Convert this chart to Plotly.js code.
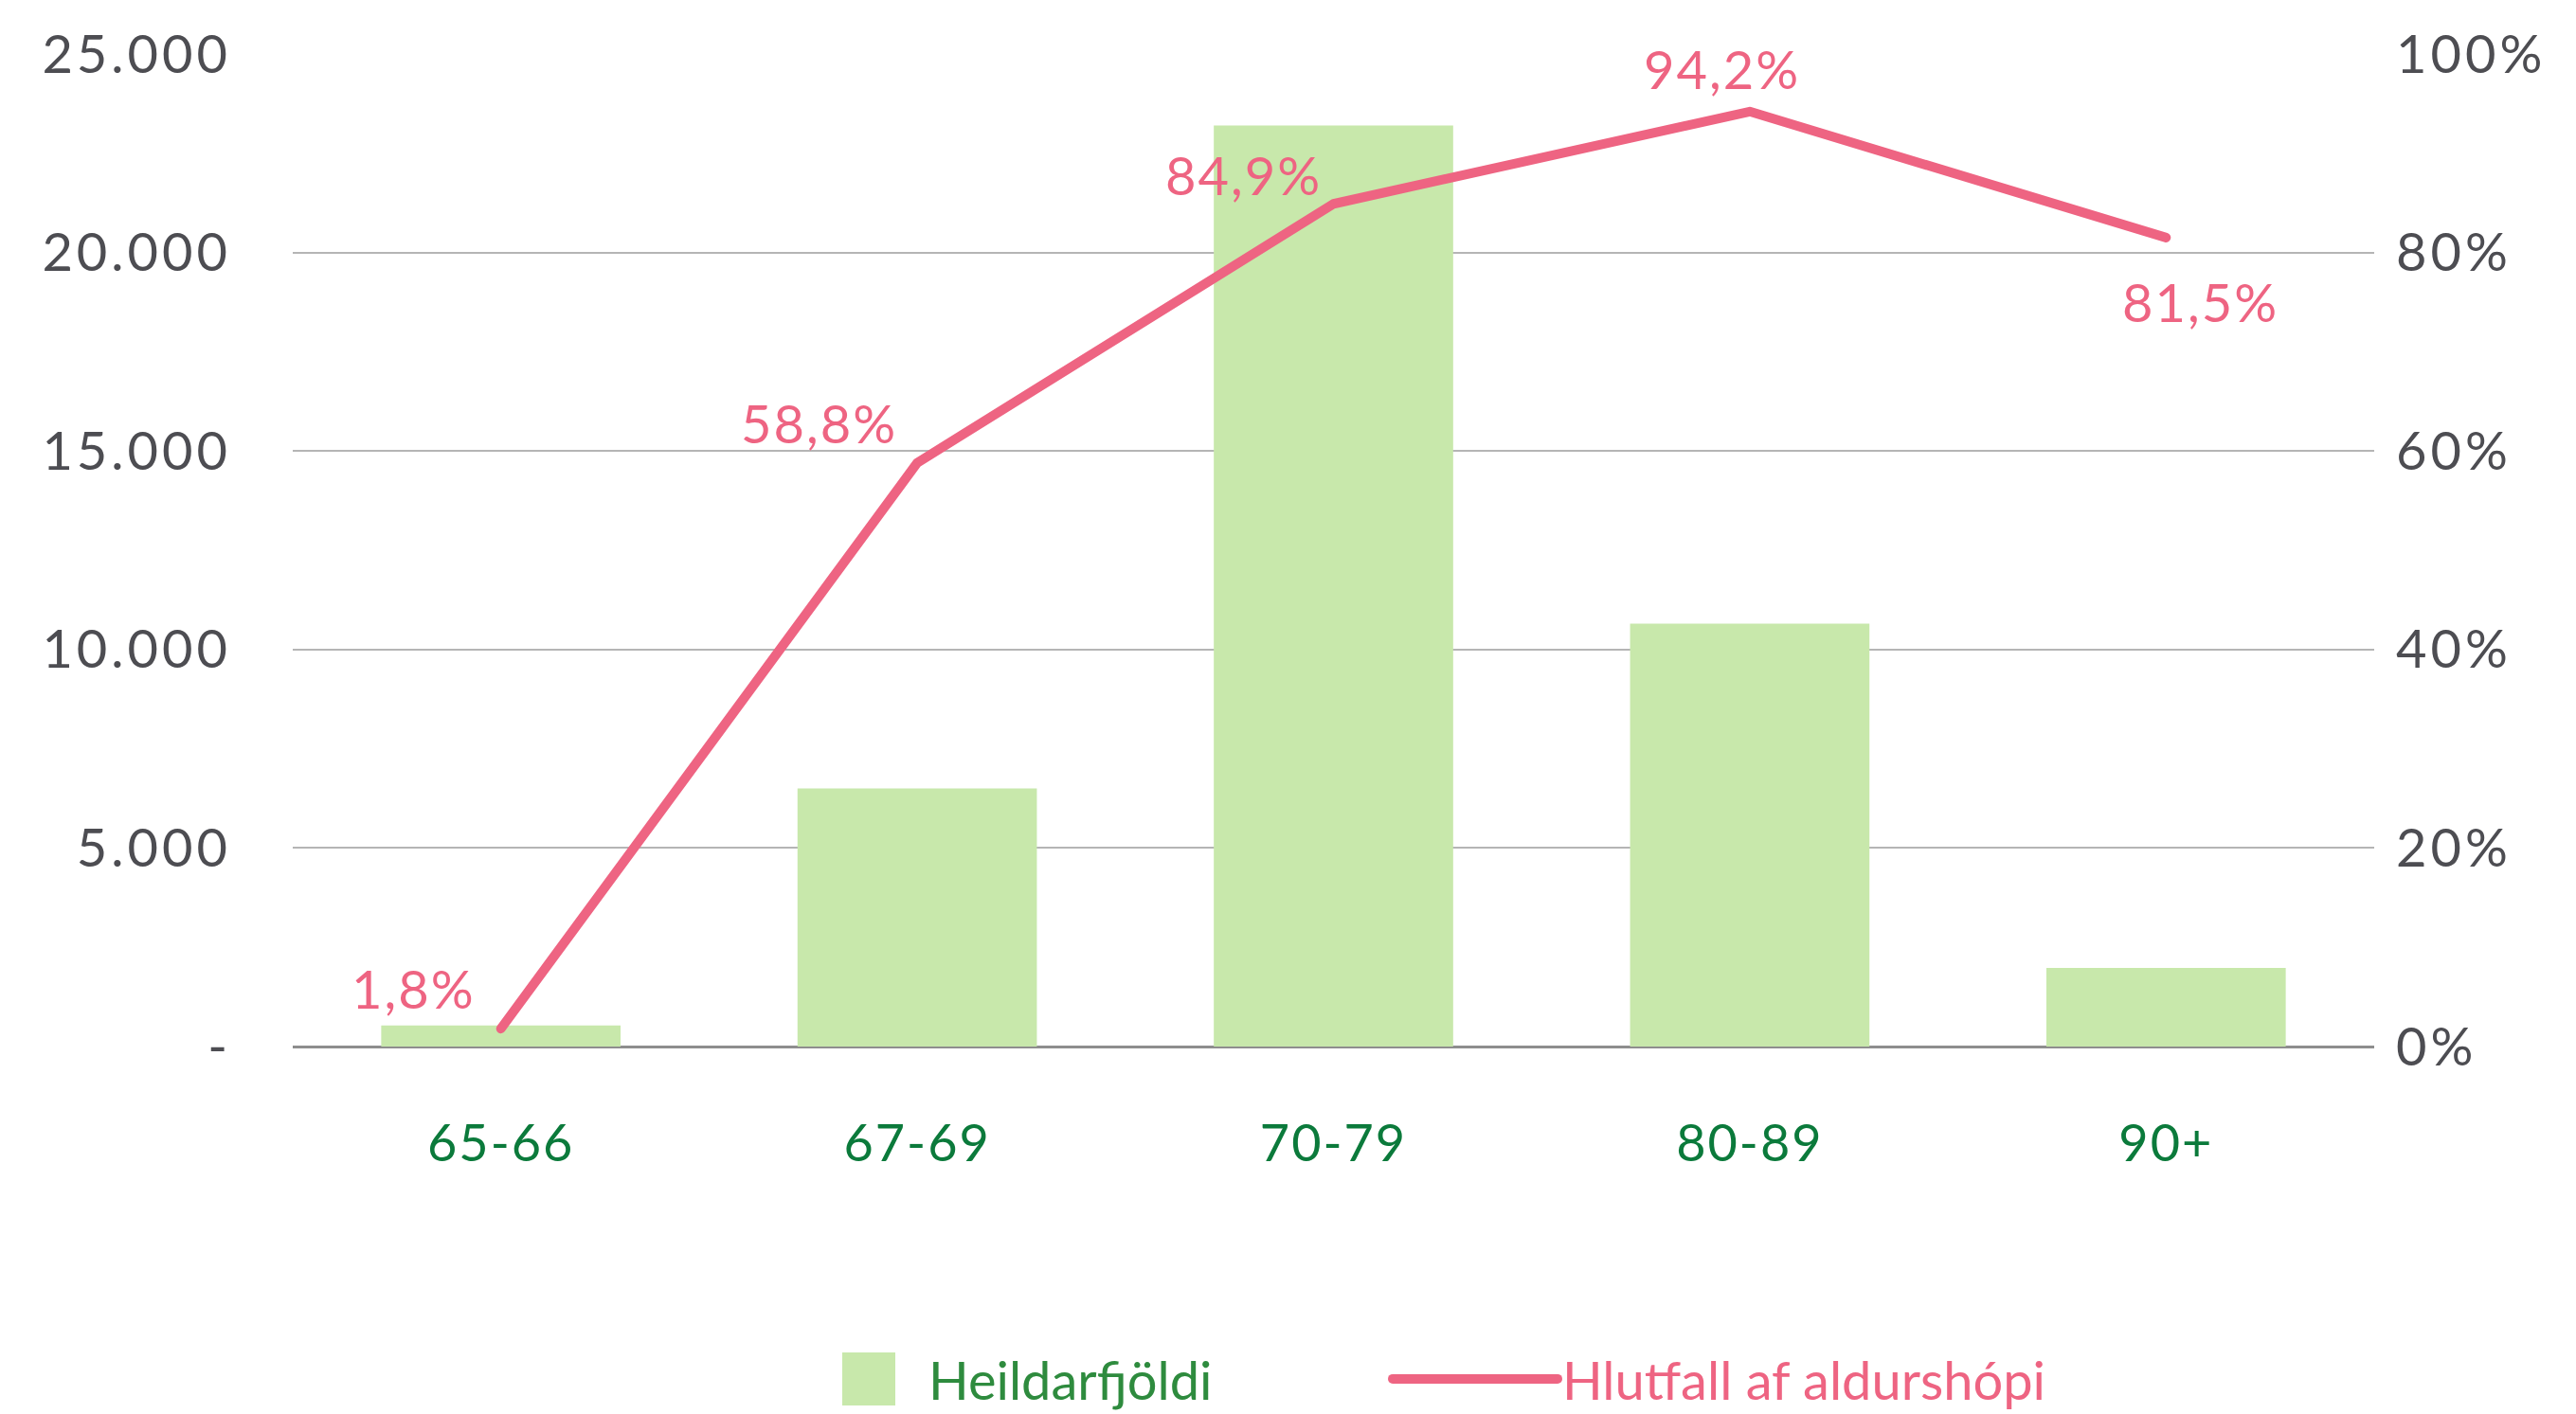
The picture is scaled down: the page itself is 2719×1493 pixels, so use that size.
<!DOCTYPE html>
<html>
<head>
<meta charset="utf-8">
<script src="https://cdn.plot.ly/plotly-3.0.1.min.js"></script>
<style>
html,body{margin:0;padding:0;background:#fff;}
#chart{width:2719px;height:1493px;}
#chart .ytick text, #chart .y2tick text {letter-spacing: 4px;}
#chart .xtick text {letter-spacing: 2px;}
#chart .annotation-text {letter-spacing: 2px;}
#chart text.legendtext[data-unformatted^="Hlutfall"] {transform: translateX(33px);}
#chart .legendlines path {stroke-linecap: round;}
#chart .scatterlayer .js-line {stroke-linecap: round; stroke-linejoin: round;}
</style>
</head>
<body>
<div id="chart"></div>
<script>
const categories = ["65-66", "67-69", "70-79", "80-89", "90+"];
const totals = [530, 6500, 23200, 10650, 1980];
const shares = [1.8, 58.8, 84.9, 94.2, 81.5];
const shareLabels = ["1,8%", "58,8%", "84,9%", "94,2%", "81,5%"];
const leftTickVals = [0, 5000, 10000, 15000, 20000, 25000];
const leftTickText = ["-", "5.000", "10.000", "15.000", "20.000", "25.000"];
const rightTickVals = [0, 20, 40, 60, 80, 100];
const rightTickText = ["0%", "20%", "40%", "60%", "80%", "100%"];

const FONT = "Lato, 'Open Sans', sans-serif";
const PINK = "#ee6482";
const GREEN_TXT = "#2e8b3e";

// label offsets from each line point, in px (style only)
const labelShiftX = [-92, -104, -95, -29, 36];
const labelShiftY = [43, 42, 31, 45, -68];

const traces = [
  {
    type: "bar",
    name: "Heildarfjöldi",
    x: categories,
    y: totals,
    marker: {color: "#c8e8ab"},
    width: 0.575,
    yaxis: "y",
    legend: "legend",
    hoverinfo: "skip"
  },
  {
    type: "scatter",
    mode: "lines",
    name: "Hlutfall af aldurshópi",
    x: categories,
    y: shares,
    yaxis: "y2",
    legend: "legend2",
    line: {color: PINK, width: 10},
    cliponaxis: false,
    hoverinfo: "skip"
  }
];

const annotations = categories.map(function(c, i){
  return {
    x: c, y: shares[i], xref: "x", yref: "y2",
    text: shareLabels[i], showarrow: false,
    xanchor: "center", yanchor: "middle",
    xshift: labelShiftX[i], yshift: labelShiftY[i],
    font: {family: FONT, size: 56, color: PINK}
  };
});

const LEG_Y = (1493 - 1456) / 1493;

const layout = {
  width: 2719,
  height: 1493,
  paper_bgcolor: "#ffffff",
  plot_bgcolor: "#ffffff",
  margin: {l: 309, r: 213, t: 57, b: 388, autoexpand: false},
  showlegend: true,
  font: {family: FONT, color: "#4d4d52"},
  annotations: annotations,
  xaxis: {
    type: "category",
    tickfont: {family: FONT, size: 54, color: "#0b7a3b"},
    ticks: "",
    ticklabelstandoff: 66,
    showgrid: false,
    showline: false,
    zeroline: false
  },
  yaxis: {
    range: [0, 25000],
    tickvals: leftTickVals,
    ticktext: leftTickText,
    tickfont: {family: FONT, size: 56, color: "#4d4d52"},
    ticklabelstandoff: 64,
    showgrid: true,
    gridcolor: "#b5b5b5",
    gridwidth: 2,
    zeroline: true,
    zerolinecolor: "#8e8e8e",
    zerolinewidth: 3,
    showline: false,
    ticks: ""
  },
  yaxis2: {
    overlaying: "y",
    side: "right",
    range: [0, 100],
    tickvals: rightTickVals,
    ticktext: rightTickText,
    tickfont: {family: FONT, size: 56, color: "#4d4d52"},
    ticklabelstandoff: 22,
    showgrid: false,
    zeroline: false,
    showline: false,
    ticks: ""
  },
  legend: {
    xref: "container", yref: "container",
    x: 854 / 2719, xanchor: "left",
    y: LEG_Y, yanchor: "middle",
    orientation: "h",
    font: {family: FONT, size: 56, color: GREEN_TXT},
    itemwidth: 116,
    bgcolor: "rgba(0,0,0,0)"
  },
  legend2: {
    xref: "container", yref: "container",
    x: 1465 / 2719, xanchor: "left",
    y: LEG_Y, yanchor: "middle",
    orientation: "h",
    font: {family: FONT, size: 56, color: PINK},
    itemwidth: 174,
    bgcolor: "rgba(0,0,0,0)"
  }
};

Plotly.newPlot("chart", traces, layout, {staticPlot: true}).then(function(gd){
  // enlarge the bar legend swatch to the reference's big square
  gd.querySelectorAll("g.traces").forEach(function(g){
    const t = g.querySelector("text.legendtext");
    if (t && t.textContent.indexOf("Heildar") === 0) {
      const p = g.querySelector(".legendpoints path");
      if (p) p.setAttribute("d", "M-28,-28H28V28H-28Z");
    }
  });
});
</script>
</body>
</html>
